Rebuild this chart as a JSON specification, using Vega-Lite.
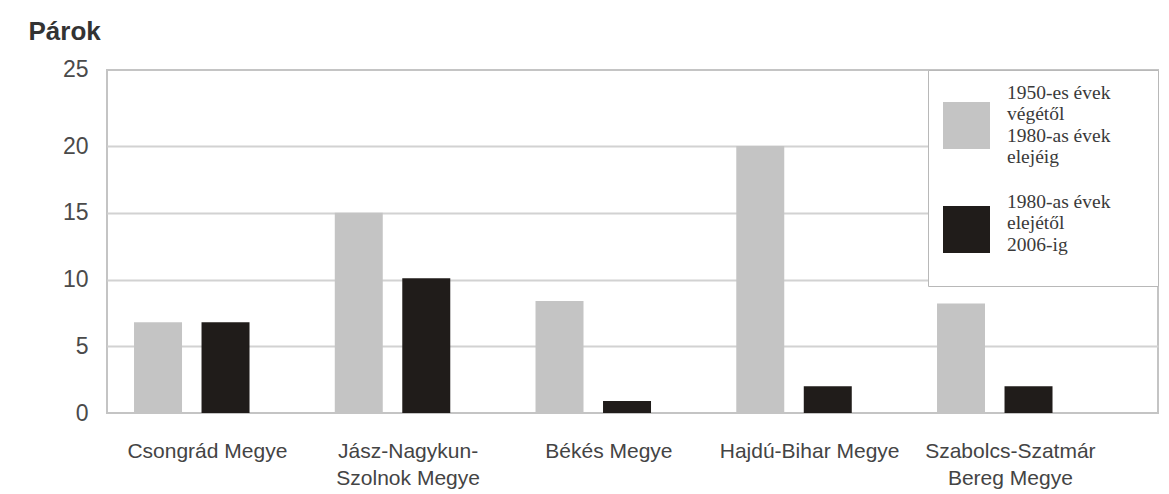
{
  "$schema": "https://vega.github.io/schema/vega-lite/v6.json",
  "autosize": {"type": "none"},
  "width": 1051,
  "height": 343,
  "padding": {"left": 107, "top": 70, "right": 11, "bottom": 81},
  "background": "#ffffff",
  "config": {
    "view": {"stroke": "#c4c4c4", "strokeWidth": 2},
    "font": "Liberation Sans"
  },
  "data": {
    "values": [
      {"county": "Csongrád Megye", "period": "1950-es évek végétől 1980-as évek elejéig", "pairs": 6.8},
      {"county": "Csongrád Megye", "period": "1980-as évek elejétől 2006-ig", "pairs": 6.8},
      {"county": "Jász-Nagykun-Szolnok Megye", "period": "1950-es évek végétől 1980-as évek elejéig", "pairs": 15},
      {"county": "Jász-Nagykun-Szolnok Megye", "period": "1980-as évek elejétől 2006-ig", "pairs": 10.1},
      {"county": "Békés Megye", "period": "1950-es évek végétől 1980-as évek elejéig", "pairs": 8.4},
      {"county": "Békés Megye", "period": "1980-as évek elejétől 2006-ig", "pairs": 0.9},
      {"county": "Hajdú-Bihar Megye", "period": "1950-es évek végétől 1980-as évek elejéig", "pairs": 20},
      {"county": "Hajdú-Bihar Megye", "period": "1980-as évek elejétől 2006-ig", "pairs": 2},
      {"county": "Szabolcs-Szatmár-Bereg Megye", "period": "1950-es évek végétől 1980-as évek elejéig", "pairs": 8.2},
      {"county": "Szabolcs-Szatmár-Bereg Megye", "period": "1980-as évek elejétől 2006-ig", "pairs": 2}
    ]
  },
  "mark": {"type": "bar", "strokeWidth": 0},
  "encoding": {
    "x": {
      "field": "county",
      "type": "nominal",
      "sort": null,
      "scale": {"paddingInner": 0, "paddingOuter": 0.1177, "align": 0},
      "axis": {
        "title": null,
        "labelAngle": 0,
        "ticks": false,
        "domain": false,
        "labelPadding": 27,
        "labelFont": "Liberation Sans",
        "labelFontSize": 21,
        "labelColor": "#444444",
        "labelLineHeight": 27,
        "labelBaseline": "top",
        "labelLimit": 400,
        "labelExpr": "datum.label == 'Jász-Nagykun-Szolnok Megye' ? ['Jász-Nagykun-', 'Szolnok Megye'] : datum.label == 'Szabolcs-Szatmár-Bereg Megye' ? ['Szabolcs-Szatmár', 'Bereg Megye'] : datum.label"
      }
    },
    "xOffset": {
      "field": "period",
      "type": "nominal",
      "sort": null,
      "scale": {"paddingInner": 0.289, "paddingOuter": 0.6315, "align": 0.317}
    },
    "y": {
      "field": "pairs",
      "type": "quantitative",
      "scale": {"domain": [0, 25.7], "nice": false, "zero": true},
      "axis": {
        "title": "Párok",
        "titleAngle": 0,
        "titleX": -79,
        "titleY": -31,
        "titleAlign": "left",
        "titleBaseline": "alphabetic",
        "titleFont": "Liberation Sans",
        "titleFontSize": 26,
        "titleFontWeight": "bold",
        "titleColor": "#333333",
        "values": [0, 5, 10, 15, 20, 25],
        "labelFont": "Liberation Sans",
        "labelFontSize": 23,
        "labelColor": "#4a4a4a",
        "labelPadding": 19,
        "labelOffset": {"condition": {"test": "datum.value == 25", "value": -10}, "value": 0},
        "ticks": false,
        "domain": false,
        "grid": true,
        "gridColor": "#d2d2d2",
        "gridWidth": 2,
        "gridOpacity": {"condition": {"test": "datum.value == 25 || datum.value == 0", "value": 0}, "value": 1}
      }
    },
    "color": {
      "field": "period",
      "type": "nominal",
      "sort": null,
      "scale": {
        "domain": ["1950-es évek végétől 1980-as évek elejéig", "1980-as évek elejétől 2006-ig"],
        "range": ["#c4c4c4", "#201c1a"]
      },
      "legend": {
        "title": null,
        "orient": "top-right",
        "offset": 0,
        "padding": 32,
        "symbolOffset": -17,
        "strokeColor": "#b8b8b8",
        "fillColor": "#ffffff",
        "symbolType": "square",
        "symbolSize": 2209,
        "symbolStrokeWidth": 0,
        "symbolOpacity": 1,
        "labelFont": "Liberation Serif",
        "labelFontSize": 19.5,
        "labelLineHeight": 22,
        "labelColor": "#3a3a3a",
        "labelOffset": 17,
        "labelLimit": 400,
        "rowPadding": 24,
        "labelExpr": "datum.label == '1950-es évek végétől 1980-as évek elejéig' ? ['1950-es évek\u00a0\u00a0\u00a0\u200b', 'végétől', '1980-as évek', 'elejéig'] : ['1980-as évek', 'elejétől', '2006-ig']",
        "encode": {
          "labels": {
            "update": {
              "dy": {"signal": "datum.value == '1950-es évek végétől 1980-as évek elejéig' ? -33 : -28"}
            }
          }
        }
      }
    }
  }
}
